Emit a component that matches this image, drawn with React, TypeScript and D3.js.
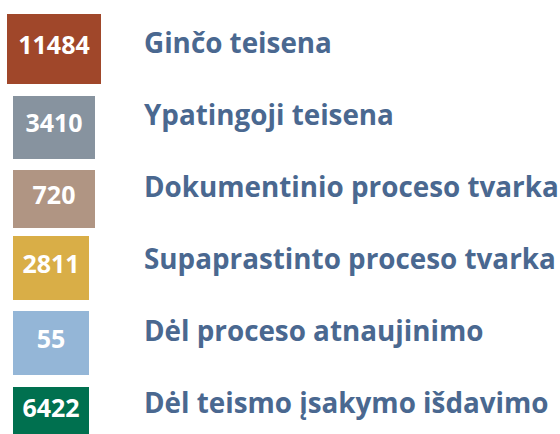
import React from "react";
import * as d3 from "d3";

const categories: string[] = [
  "Ginčo teisena",
  "Ypatingoji teisena",
  "Dokumentinio proceso tvarka",
  "Supaprastinto proceso tvarka",
  "Dėl proceso atnaujinimo",
  "Dėl teismo įsakymo išdavimo",
];
const values: number[] = [11484, 3410, 720, 2811, 55, 6422];
const colors: string[] = ["#A0472A", "#87939F", "#B09583", "#D9AE47", "#94B6D7", "#00704F"];

// layout (box geometry per row)
const boxLeft: number[] = [7, 13, 13, 13, 13, 13];
const boxWidth: number[] = [94, 82, 82, 76, 76, 76];
const boxTop: number[] = [14, 96, 170, 236, 311, 387];
const boxHeight: number[] = [70, 63, 58, 64, 64, 50];

const W = 560;
const H = 434;

export default function App() {
  const y = d3
    .scalePoint<string>()
    .domain(categories)
    .range([53, 413]);

  return (
    <svg
      width={W}
      height={H}
      viewBox={`0 0 ${W} ${H}`}
      style={{ position: "absolute", left: 0, top: 0, background: "#fff" }}
    >
      {categories.map((c, i) => {
        const cx = boxLeft[i] + boxWidth[i] / 2;
        const cy = boxTop[i] + boxHeight[i] / 2;
        return (
          <g key={c}>
            <rect
              x={boxLeft[i]}
              y={boxTop[i]}
              width={boxWidth[i]}
              height={boxHeight[i]}
              fill={colors[i]}
            />
            <text
              x={cx}
              y={cy + 4.5}
              textAnchor="middle"
              fill="#fff"
              fontFamily="'Open Sans', Lato, sans-serif"
              fontWeight={700}
              fontSize={25}
            >
              {d3.format("d")(values[i])}
            </text>
            <text
              x={144}
              y={y(c)}
              fill="#4A6890"
              fontFamily="'Open Sans', Lato, sans-serif"
              fontWeight={700}
              fontSize={27.8}
            >
              {c}
            </text>
          </g>
        );
      })}
    </svg>
  );
}
